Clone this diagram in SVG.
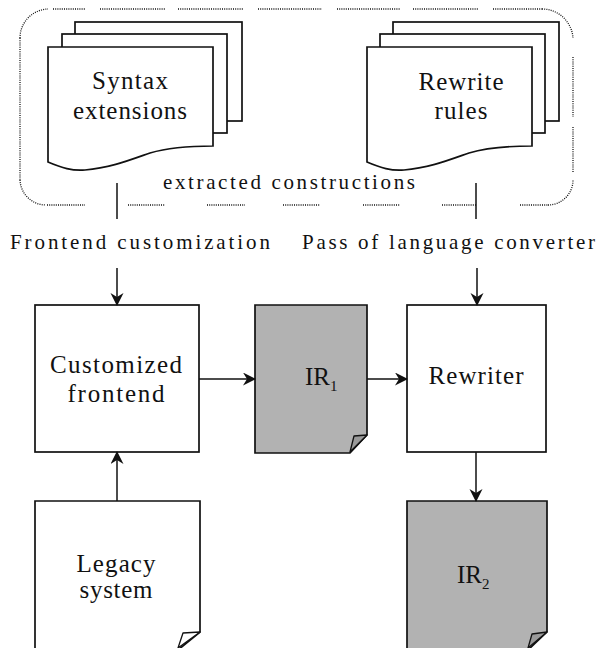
<svg xmlns="http://www.w3.org/2000/svg" width="600" height="648" viewBox="0 0 600 648">
<defs>
<style>
.t{font-family:"Liberation Serif","DejaVu Serif",serif;fill:#111;}
.n{font-size:25px;}
.e{font-size:21px;}
.sub{font-size:15px;}
.pg{fill:#fff;stroke:#111;stroke-width:1.7;stroke-linejoin:miter;}
.gr{fill:#b2b2b2;}
.flap{fill:#fff;stroke:#111;stroke-width:1.3;stroke-linejoin:round;}
.flapg{fill:#9a9a9a;stroke:#111;stroke-width:1.3;stroke-linejoin:round;}
.c{fill:none;stroke:#111;stroke-width:1.5;}
.dot{fill:none;stroke:#111;stroke-width:1.3;stroke-dasharray:1 1.2;}
</style>
<marker id="ah" markerUnits="userSpaceOnUse" markerWidth="14" markerHeight="14" refX="12" refY="6.5" orient="auto">
<path d="M0,0 L13,6.5 L0,13 L4,6.5 Z" fill="#111"/>
</marker>
</defs>
<rect width="600" height="648" fill="#fff"/>

<g id="group-border">
<path class="dot" d="M53,9h32 M100,9h65 M178,9h65 M258,9h64 M337,9h63 M413,9h65 M493,9h49 M20,38 A29,29 0 0 1 48,9 M542,9 A31,31 0 0 1 573,38 M20,38 V180 M20,180 A26,26 0 0 0 46,205 M47,205h38 M128,205h37 M207,205h38 M283,205h37 M363,205h37 M442,205h35 M520,205h28 M548,205 A25,25 0 0 0 573,180 M573,57V117 M573,127V172"/>
<text class="t e" x="163" y="189" textLength="252" lengthAdjust="spacing">extracted constructions</text>
</g>

<g id="syntax-extensions">
<rect class="pg" x="75" y="22" width="167" height="99"/>
<rect class="pg" x="62" y="34" width="165" height="99"/>
<path class="pg" d="M48,47 H213 V146 C190,146 170,147 150,153 C130,160 110,168 85,170 C72,171 62,168 48,162 Z"/>
<text class="t n" x="130" y="89" text-anchor="middle" textLength="76" lengthAdjust="spacing">Syntax</text>
<text class="t n" x="130" y="119" text-anchor="middle" textLength="114" lengthAdjust="spacing">extensions</text>
</g>

<g id="rewrite-rules">
<rect class="pg" x="393" y="22" width="166" height="99"/>
<rect class="pg" x="380" y="34" width="165" height="99"/>
<path class="pg" d="M367,47 H532 V146 C509,146 489,147 469,153 C449,160 429,168 404,170 C391,171 381,168 367,162 Z"/>
<text class="t n" x="461" y="90" text-anchor="middle" textLength="85" lengthAdjust="spacing">Rewrite</text>
<text class="t n" x="461" y="119" text-anchor="middle" textLength="53" lengthAdjust="spacing">rules</text>
</g>

<g id="label-frontend-customization">
<text class="t e" x="10" y="249" textLength="260" lengthAdjust="spacing">Frontend customization</text>
</g>
<g id="label-pass">
<text class="t e" x="302" y="249" textLength="293" lengthAdjust="spacing">Pass of language converter</text>
</g>

<g id="customized-frontend">
<rect class="pg" x="35" y="305" width="164" height="147"/>
<text class="t n" x="116" y="373" text-anchor="middle" textLength="132" lengthAdjust="spacing">Customized</text>
<text class="t n" x="116" y="402" text-anchor="middle" textLength="97" lengthAdjust="spacing">frontend</text>
</g>

<g id="ir1">
<path class="pg gr" d="M255,305 H367 V435 L350,453 H255 Z"/>
<path class="flapg" d="M367,435 L354,436 L350,452 Z"/>
<text class="t n" x="305" y="385">IR<tspan class="sub" dy="6">1</tspan></text>
</g>

<g id="rewriter">
<rect class="pg" x="407" y="305" width="139" height="147"/>
<text class="t n" x="476" y="384" text-anchor="middle" textLength="95" lengthAdjust="spacing">Rewriter</text>
</g>

<g id="legacy-system">
<path class="pg" d="M35,501 H200 V632 L178,650 H35 Z"/>
<path class="flap" d="M200,632 L183,633 L178,648 Z"/>
<text class="t n" x="116" y="572" text-anchor="middle" textLength="79" lengthAdjust="spacing">Legacy</text>
<text class="t n" x="116" y="598" text-anchor="middle" textLength="73" lengthAdjust="spacing">system</text>
</g>

<g id="ir2">
<path class="pg gr" d="M407,501 H547 V632 L528,650 H407 Z"/>
<path class="flapg" d="M547,632 L532,634 L528,648 Z"/>
<text class="t n" x="457" y="583">IR<tspan class="sub" dy="6">2</tspan></text>
</g>

<g id="connectors">
<path class="c" d="M117,183 V219"/>
<path class="c" d="M476,183 V219"/>
<path class="c" d="M117,268 V305" marker-end="url(#ah)"/>
<path class="c" d="M477,268 V305" marker-end="url(#ah)"/>
<path class="c" d="M199,379 H255" marker-end="url(#ah)"/>
<path class="c" d="M367,379 H407" marker-end="url(#ah)"/>
<path class="c" d="M476,452 V501" marker-end="url(#ah)"/>
<path class="c" d="M117,501 V452" marker-end="url(#ah)"/>
</g>
</svg>
